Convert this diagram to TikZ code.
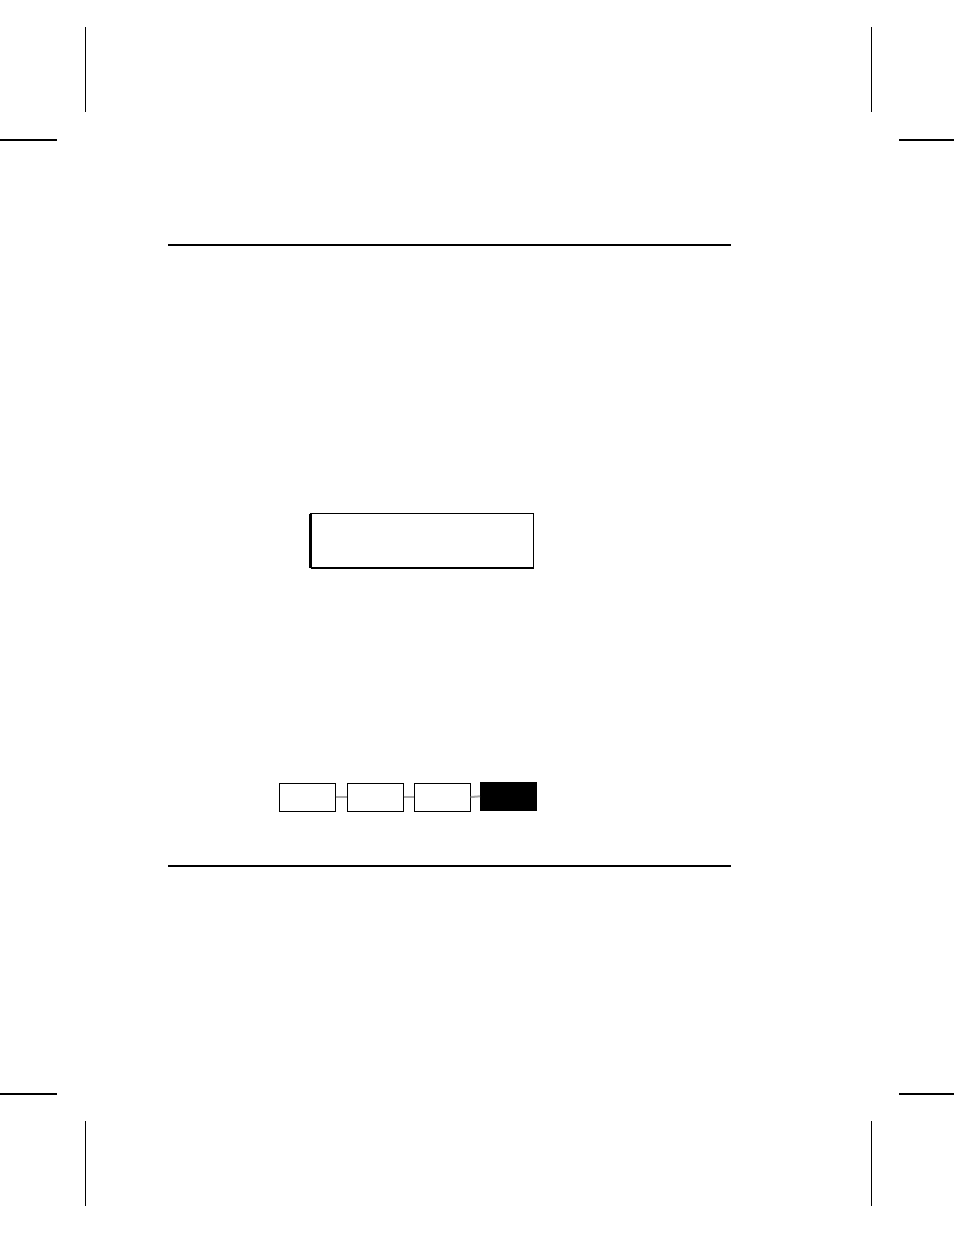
\documentclass[tikz,border=0pt]{standalone}
\begin{document}
\begin{tikzpicture}[x=1pt,y=-1pt,
  cropv/.style={line width=1.2pt},
  croph/.style={line width=2pt},
  rulel/.style={line width=1.1pt},
  smallbox/.style={draw,line width=1.1pt,minimum width=56pt,minimum height=28pt,inner sep=0pt,anchor=north west},
  darkbox/.style={fill=black,draw=black,line width=0pt,minimum width=56.5pt,minimum height=28pt,inner sep=0pt,anchor=north west},
  link/.style={draw=black!35,line width=2pt}]
\useasboundingbox (0,0) rectangle (954,1235);
\fill[white] (0,0) rectangle (954,1235);
% crop marks
\coordinate (tlv1) at (85.5,27); \coordinate (tlv2) at (85.5,112);
\draw[cropv] (tlv1) -- (tlv2);
\coordinate (tlh1) at (0,139.5); \coordinate (tlh2) at (57,139.5);
\draw[croph] (tlh1) -- (tlh2);
\coordinate (trv1) at (871.5,27); \coordinate (trv2) at (871.5,112);
\draw[cropv] (trv1) -- (trv2);
\coordinate (trh1) at (899,139.5); \coordinate (trh2) at (954,139.5);
\draw[croph] (trh1) -- (trh2);
\coordinate (blv1) at (85.5,1121); \coordinate (blv2) at (85.5,1206);
\draw[cropv] (blv1) -- (blv2);
\coordinate (blh1) at (0,1094); \coordinate (blh2) at (57,1094);
\draw[croph] (blh1) -- (blh2);
\coordinate (brv1) at (871.5,1121); \coordinate (brv2) at (871.5,1206);
\draw[cropv] (brv1) -- (brv2);
\coordinate (brh1) at (899,1094); \coordinate (brh2) at (954,1094);
\draw[croph] (brh1) -- (brh2);
% rules
\coordinate (r1a) at (168,245); \coordinate (r1b) at (731,245);
\draw[rulel] (r1a) -- (r1b);
\coordinate (r2a) at (168,866); \coordinate (r2b) at (731,866);
\draw[rulel] (r2a) -- (r2b);
% big box
\node[draw,line width=1.1pt,minimum width=223pt,minimum height=54pt,inner sep=0pt,anchor=north west] (big) at (310,513) {};
\draw[line width=2.6pt] ([xshift=0.6pt,yshift=-0.5pt]big.north west) -- ([xshift=0.6pt]big.south west);
\draw[line width=2pt] ([xshift=0.6pt,yshift=0.5pt]big.south west) -- ([yshift=0.5pt]big.south east);
% small boxes
\node[smallbox] (b1) at (278.5,782.5) {};
\node[smallbox] (b2) at (346.5,782.5) {};
\node[smallbox] (b3) at (413.5,782.5) {};
\node[darkbox] (b4) at (480,782.3) {};
\draw[link] (b1.east) -- (b2.west);
\draw[link] (b2.east) -- (b3.west);
\draw[link] (b3.east) -- (b4.west);
\end{tikzpicture}
\end{document}
